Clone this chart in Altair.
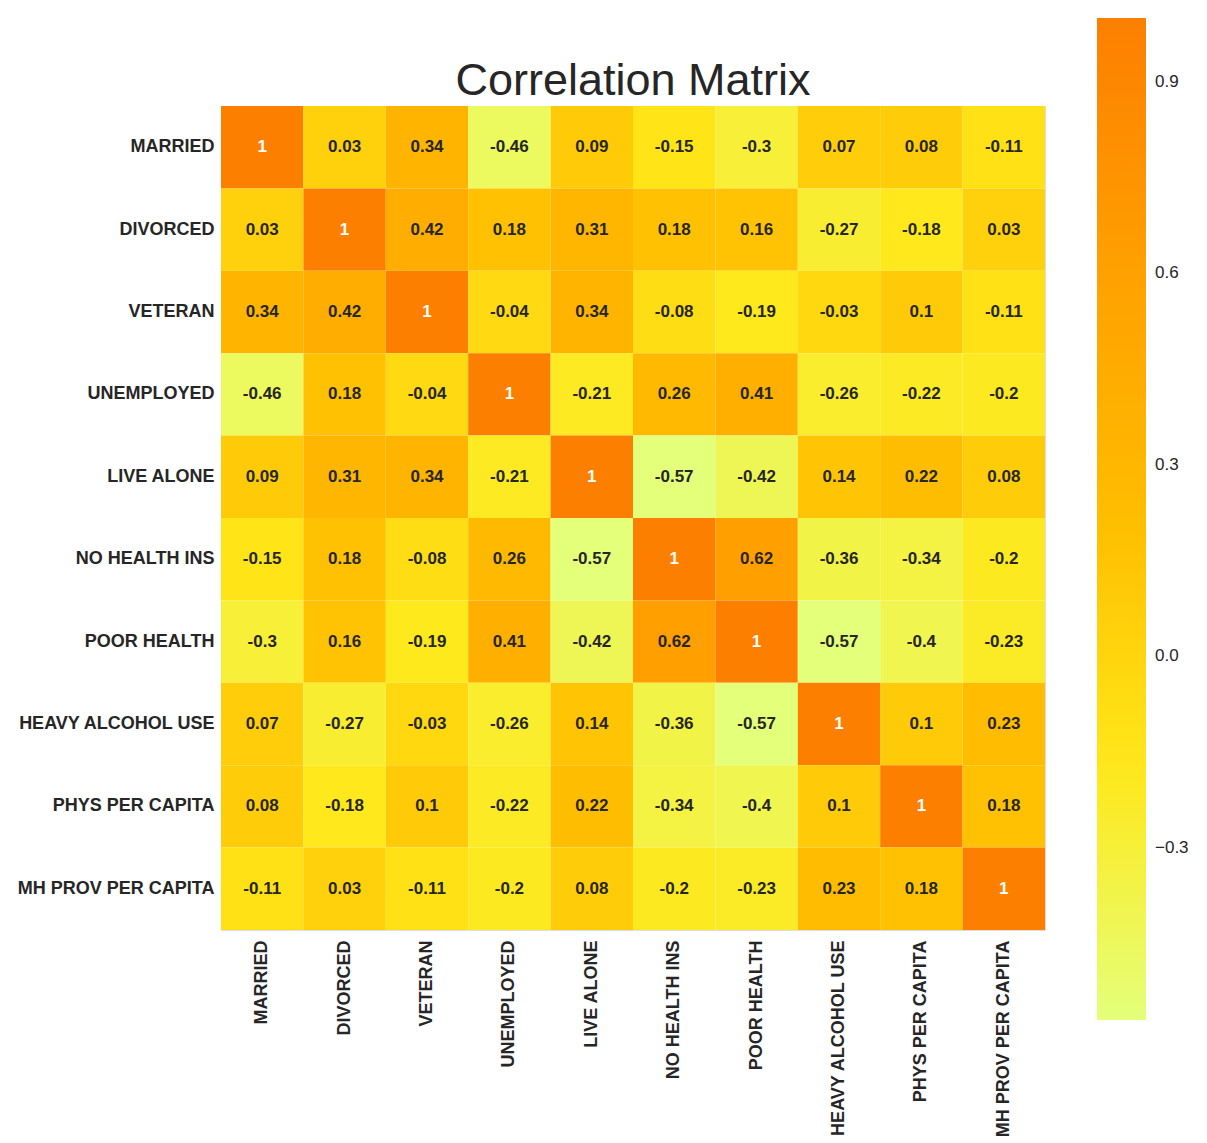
import altair as alt
import pandas as pd

# Variables in the order they appear on both axes
variables = [
    "MARRIED", "DIVORCED", "VETERAN", "UNEMPLOYED", "LIVE ALONE",
    "NO HEALTH INS", "POOR HEALTH", "HEAVY ALCOHOL USE",
    "PHYS PER CAPITA", "MH PROV PER CAPITA",
]

# Pairwise correlation coefficients, one row per variable
corr_rows = [
    [1, 0.03, 0.34, -0.46, 0.09, -0.15, -0.3, 0.07, 0.08, -0.11],
    [0.03, 1, 0.42, 0.18, 0.31, 0.18, 0.16, -0.27, -0.18, 0.03],
    [0.34, 0.42, 1, -0.04, 0.34, -0.08, -0.19, -0.03, 0.1, -0.11],
    [-0.46, 0.18, -0.04, 1, -0.21, 0.26, 0.41, -0.26, -0.22, -0.2],
    [0.09, 0.31, 0.34, -0.21, 1, -0.57, -0.42, 0.14, 0.22, 0.08],
    [-0.15, 0.18, -0.08, 0.26, -0.57, 1, 0.62, -0.36, -0.34, -0.2],
    [-0.3, 0.16, -0.19, 0.41, -0.42, 0.62, 1, -0.57, -0.4, -0.23],
    [0.07, -0.27, -0.03, -0.26, 0.14, -0.36, -0.57, 1, 0.1, 0.23],
    [0.08, -0.18, 0.1, -0.22, 0.22, -0.34, -0.4, 0.1, 1, 0.18],
    [-0.11, 0.03, -0.11, -0.2, 0.08, -0.2, -0.23, 0.23, 0.18, 1],
]

# Colour bar ticks
legend_ticks = [0.9, 0.6, 0.3, 0.0, -0.3]

# Wistia-like colour ramp spread evenly over the data range
wistia = ["#e4ff7a", "#ffe81a", "#ffbd00", "#ffa000", "#fc7f00"]
vmin, vmax = -0.57, 1.0
stops = [vmin + (vmax - vmin) * i / 4 for i in range(5)]

records = []
for i, row_name in enumerate(variables):
    for j, col_name in enumerate(variables):
        v = corr_rows[i][j]
        records.append({
            "row": row_name,
            "col": col_name,
            "value": v,
            "label": f"{v:g}",
        })
df = pd.DataFrame(records)

FONT = "Liberation Sans"
INK = "#262626"

base = alt.Chart(df).encode(
    x=alt.X("col:N", sort=variables, title=None,
            scale=alt.Scale(paddingInner=0, paddingOuter=0),
            axis=alt.Axis(orient="bottom", labelAngle=-90, labelAlign="right",
                          labelBaseline="middle", labelPadding=10,
                          labelFontSize=18, labelFontWeight="bold",
                          labelColor=INK, labelFont=FONT, labelLimit=400,
                          ticks=False, domain=False, grid=False)),
    y=alt.Y("row:N", sort=variables, title=None,
            scale=alt.Scale(paddingInner=0, paddingOuter=0),
            axis=alt.Axis(labelPadding=7, labelFontSize=18,
                          labelFontWeight="bold", labelColor=INK,
                          labelFont=FONT, labelLimit=400, ticks=False,
                          domain=False, grid=False)),
)

cells = base.mark_rect().encode(
    color=alt.Color(
        "value:Q",
        scale=alt.Scale(domain=stops, range=wistia, interpolate="rgb"),
        legend=alt.Legend(
            title=None, orient="none", legendX=876, legendY=-88,
            direction="vertical", gradientLength=1002,
            gradientThickness=49, gradientStrokeWidth=0,
            values=legend_ticks, format=".1f",
            labelFontSize=17, labelFont=FONT, labelColor=INK,
            labelOffset=9, padding=0, labelOverlap=False,
        ),
    )
)

annotations = base.mark_text(
    font=FONT, fontSize=17, fontWeight="bold", baseline="middle",
    align="center",
).encode(
    text="label:N",
    color=alt.condition(alt.datum.value > 0.7, alt.value("white"),
                        alt.value(INK)),
)

chart = (cells + annotations).properties(
    width=824,
    height=824,
    title=alt.Title("Correlation Matrix", fontSize=45, font=FONT,
                    fontWeight="normal", color=INK, anchor="middle",
                    offset=-86),
    autosize=alt.AutoSizeParams(type="none"),
    padding={"left": 221, "top": 106, "right": 162, "bottom": 213},
).configure_view(stroke=None).configure(background="white")

chart.save("out.html", embed_options={"renderer": "svg", "actions": False})
